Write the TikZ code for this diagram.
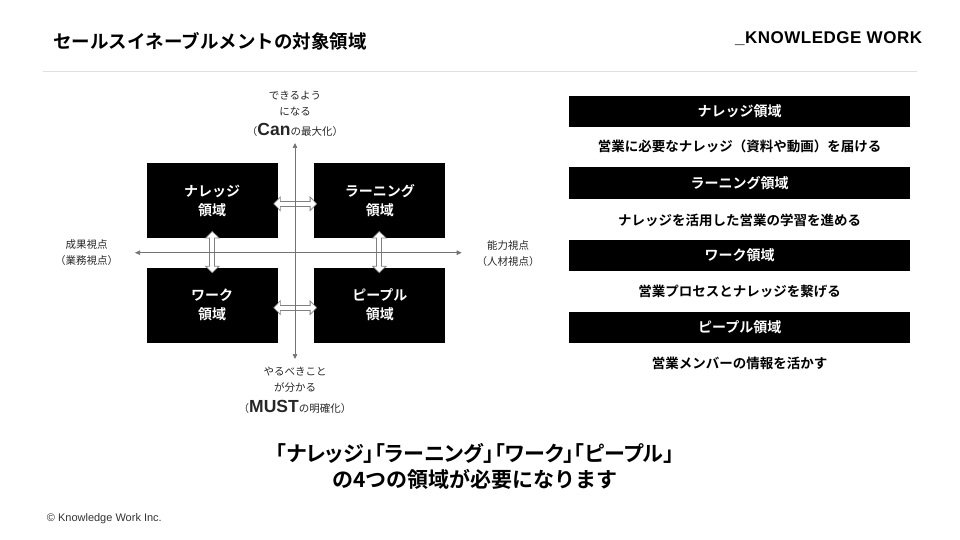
\documentclass[tikz,border=0pt]{standalone}
\usepackage{fontspec}
\setmainfont{Noto Sans CJK JP}[BoldFont=* Bold]
\newfontfamily\latinfont{Liberation Sans}
\newfontfamily\logofont{Liberation Sans}[LetterSpace=3]
\usetikzlibrary{arrows.meta,positioning}

\begin{document}
\begin{tikzpicture}[x=1pt, y=-1pt,
    quad/.style={fill=black, text=white, minimum width=131pt, minimum height=75pt,
                 align=center, inner sep=0pt, font=\bfseries\fontsize{14}{19}\selectfont},
    bar/.style={fill=black, text=white, minimum width=340.7pt, minimum height=31pt,
                inner sep=0pt, font=\bfseries\fontsize{14}{17}\selectfont},
    desc/.style={inner sep=0pt, font=\bfseries\fontsize{13.5}{16}\selectfont},
    axlabel/.style={align=center, inner sep=0pt, text=black!85,
                    font=\fontsize{10.5}{16}\selectfont},
    axis/.style={draw=black!55, line width=0.7pt,
                 {Triangle[length=5pt,width=4.5pt]}-{Triangle[length=5pt,width=4.5pt]}},
    link/.style={draw=black!50, line width=6pt,
                 {Triangle[length=7.5pt,width=15pt]}-{Triangle[length=7.5pt,width=15pt]},
                 postaction={draw=white, line width=4.2pt, shorten <=1.2pt, shorten >=1.2pt,
                   {Triangle[length=5.4pt,width=10.8pt]}-{Triangle[length=5.4pt,width=10.8pt]}}}
  ]
  \useasboundingbox (0,0) rectangle (960,540);

  % header
  \node[anchor=west, inner sep=0pt, font=\bfseries\fontsize{18.5}{20}\selectfont]
    (TITLE) at (53, 41.7) {セールスイネーブルメントの対象領域};
  \node[anchor=east, inner sep=0pt, font=\logofont\bfseries\fontsize{17}{20}\selectfont]
    (LOGO) at (922.3, 39) {\_KNOWLEDGE WORK};
  \draw[black!12, line width=1pt] (43, 71.7) -- (916.7, 71.7);

  % four areas
  \node[quad] (KN) at (212,   200.8) {ナレッジ\\領域};
  \node[quad] (LN) at (379.9, 200.8) {ラーニング\\領域};
  \node[quad] (WK) at (212,   305)   {ワーク\\領域};
  \node[quad] (PP) at (379.9, 305)   {ピープル\\領域};

  \draw[link] ([xshift=-4.5pt, yshift=-3pt]KN.east) -- ([xshift=3pt, yshift=-3pt]LN.west);
  \draw[link] ([xshift=-4.5pt, yshift=-2.7pt]WK.east) -- ([xshift=3pt, yshift=-2.7pt]PP.west);
  \draw[link] ([xshift=0.3pt, yshift=7.6pt]KN.south) -- ([xshift=0.3pt, yshift=-6pt]WK.north);
  \draw[link] ([xshift=-0.6pt, yshift=7.6pt]LN.south) -- ([xshift=-0.6pt, yshift=-6pt]PP.north);

  % axes
  \coordinate (N) at (295, 143);
  \coordinate (S) at (295, 359);
  \coordinate (W) at (135, 252.7);
  \coordinate (E) at (461.7, 252.7);
  \draw[axis] (S) -- (N);
  \draw[axis] (W) -- (E);

  \node[axlabel] (CANLBL) at (295, 113.8)
    {できるよう\\になる\\[4.5pt]（{\latinfont\bfseries\fontsize{17.5}{18}\selectfont Can}の最大化）};
  \node[axlabel] (MUSTLBL) at (295, 390.3)
    {やるべきこと\\が分かる\\[4.5pt]（{\latinfont\bfseries\fontsize{17.5}{18}\selectfont MUST}の明確化）};
  \node[axlabel] (BIZLBL) at (86.7, 253) {成果視点\\（業務視点）};
  \node[axlabel] (HRLBL)  at (508, 253.5) {能力視点\\（人材視点）};

  % right panel
  \node[bar]  (KNBAR)  at (739.7, 111.3) {ナレッジ領域};
  \node[desc] (KNDESC) at (739.7, 146.7) {営業に必要なナレッジ（資料や動画）を届ける};
  \node[bar]  (LNBAR)  at (739.7, 183)   {ラーニング領域};
  \node[desc] (LNDESC) at (739.7, 220)   {ナレッジを活用した営業の学習を進める};
  \node[bar]  (WKBAR)  at (739.7, 255.3) {ワーク領域};
  \node[desc] (WKDESC) at (739.7, 291.7) {営業プロセスとナレッジを繋げる};
  \node[bar]  (PPBAR)  at (739.7, 327)   {ピープル領域};
  \node[desc] (PPDESC) at (739.7, 363.3) {営業メンバーの情報を活かす};

  % message and footer
  \node[align=center, inner sep=0pt, font=\bfseries\fontsize{21}{26}\selectfont]
    (MSG) at (475, 466)
    {{\addfontfeature{RawFeature=+palt}「ナレッジ」「ラーニング」「ワーク」「ピープル」}\\の4つの領域が必要になります};
  \node[anchor=west, inner sep=0pt, text=black!80, font=\latinfont\fontsize{11}{13}\selectfont]
    (COPY) at (46.7, 518.3) {© Knowledge Work Inc.};
\end{tikzpicture}
\end{document}
